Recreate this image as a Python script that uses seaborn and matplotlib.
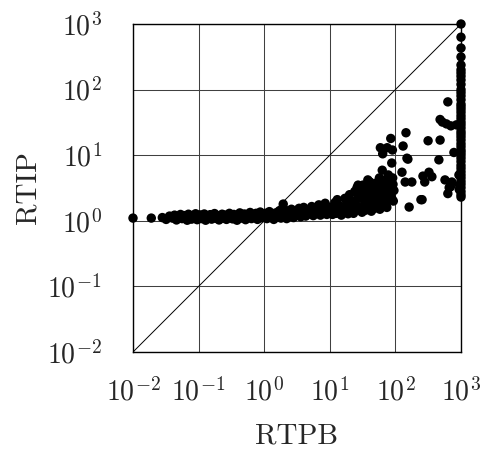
import numpy as np
import pandas as pd
import matplotlib
matplotlib.use("Agg")
import matplotlib.pyplot as plt
import seaborn as sns
from matplotlib.ticker import FixedLocator, FuncFormatter, NullLocator

# --- data (RTPB vs RTIP) ---
band_low_x = [0.01, 0.019, 0.028, 0.032, 0.036, 0.04, 0.043, 0.046, 0.05, 0.053,
              0.056, 0.06, 0.063, 0.067, 0.07, 0.074, 0.078, 0.082, 0.086, 0.09,
              0.095, 0.1, 0.105, 0.11, 0.116, 0.122, 0.128, 0.135, 0.142, 0.15,
              0.158, 0.166, 0.175, 0.185, 0.195, 0.205, 0.216, 0.228, 0.24, 0.253,
              0.266, 0.28, 0.295, 0.31, 0.33, 0.345, 0.365, 0.385, 0.405, 0.425,
              0.45, 0.47, 0.5, 0.52, 0.55, 0.58, 0.61, 0.64, 0.68, 0.71,
              0.75, 0.79, 0.83, 0.87, 0.92, 0.96, 1.0]
band_low_y = [1.1, 1.1, 1.12, 1.05, 1.18, 1.1, 1.22, 1.03, 1.15, 1.25,
              1.08, 1.2, 1.12, 1.02, 1.26, 1.14, 1.06, 1.21, 1.1, 1.28,
              1.04, 1.17, 1.23, 1.08, 1.13, 1.27, 1.02, 1.19, 1.11, 1.24,
              1.06, 1.16, 1.29, 1.09, 1.2, 1.03, 1.14, 1.26, 1.1, 1.22,
              1.05, 1.18, 1.3, 1.12, 1.07, 1.25, 1.15, 1.02, 1.21, 1.32,
              1.1, 1.17, 1.27, 1.04, 1.2, 1.12, 1.34, 1.08, 1.23, 1.16,
              1.3, 1.05, 1.19, 1.36, 1.11, 1.25, 1.15]

band_mid_x = [1.05, 1.1, 1.15, 1.2, 1.3, 1.35, 1.4, 1.5, 1.6, 1.7,
              1.8, 1.95, 2.0, 2.1, 2.2, 2.35, 2.5, 2.6, 2.8, 3.0,
              3.2, 3.4, 3.6, 3.8, 4.0, 4.3, 4.6, 5.0, 5.3, 5.6,
              6.0, 6.4, 6.8, 7.2, 7.6, 8.0, 8.5, 9.0, 9.5, 10.0]
band_mid_y = [1.3, 1.08, 1.2, 1.38, 1.12, 1.25, 1.05, 1.32, 1.18, 1.42,
              1.1, 1.8, 1.27, 1.45, 1.08, 1.35, 1.2, 1.5, 1.12, 1.4,
              1.25, 1.55, 1.15, 1.33, 1.6, 1.18, 1.45, 1.28, 1.65, 1.2,
              1.5, 1.35, 1.75, 1.22, 1.55, 1.4, 1.85, 1.25, 1.6, 1.45]

band_high_x = [10.5, 11, 11.5, 12, 12.5, 13, 13.5, 14, 15, 15.5,
               16, 17, 17.5, 18, 19, 20, 20.5, 21, 22, 23,
               24, 25, 26, 27, 28, 29, 30, 31, 32, 33,
               34, 35, 36, 38, 39, 40, 41, 42, 43, 44,
               46, 47, 48, 50, 51, 52, 54, 55, 57, 58,
               60, 62, 63, 64, 65, 67, 68, 70, 72, 74,
               75, 77, 78, 80, 82, 83, 85, 85, 88, 90,
               91, 93, 95, 59, 75, 38, 27, 86, 88, 92]
band_high_y = [1.6, 1.25, 1.45, 1.9, 1.3, 2.1, 1.5, 1.7, 1.22, 1.55,
               1.35, 2.2, 1.6, 1.8, 1.28, 2.5, 1.95, 1.45, 2.0, 1.3,
               2.8, 1.75, 3.2, 2.2, 1.5, 2.4, 2.6, 1.35, 3.5, 2.1,
               1.8, 1.45, 3.0, 2.4, 1.65, 1.9, 3.9, 2.8, 1.4, 2.0,
               3.3, 2.6, 1.55, 2.5, 1.8, 3.8, 2.9, 2.2, 4.5, 1.5,
               2.9, 1.8, 5.9, 10.5, 3.5, 2.0, 2.4, 4.2, 1.7, 1.6,
               3.0, 2.6, 5.0, 2.2, 3.2, 3.5, 2.4, 18, 7.6, 12,
               4.5, 2.0, 2.9, 13, 13, 4.2, 3.5, 3.0, 2.2, 3.6]

spread_x = [126, 131, 141, 145, 150, 155, 162, 178, 245, 263, 315, 325, 360, 480, 480, 460,
            570, 630, 630, 725, 780, 520, 600, 700, 850, 255, 280, 660, 690, 930, 950, 940]
spread_y = [5.5, 13.8, 3.9, 22, 9, 8.7, 1.62, 3.9, 2.1, 4.8, 16.6, 5.5, 4.7, 35, 17, 8.5,
            4.2, 65, 2.6, 3.9, 11, 32, 30, 28, 29, 2.1, 3.9, 3.2, 3.3, 5, 3.5, 3.0]

edge_x = [1000] * 45
edge_y = [1000, 630, 430, 315, 237, 200, 180, 160, 140, 120, 100, 90, 80, 70, 60, 55, 50,
          45, 40, 36, 32, 29, 26, 23, 21, 19, 17, 15, 13.5, 12, 11, 10, 9, 8, 7, 6.3,
          5.6, 5, 4.5, 4, 3.6, 3.2, 2.8, 2.5, 2.3]

diag = [1e-2, 1e3]
tick_exps = [-2, -1, 0, 1, 2, 3]

df = pd.DataFrame({
    "RTPB": band_low_x + band_mid_x + band_high_x + spread_x + edge_x,
    "RTIP": band_low_y + band_mid_y + band_high_y + spread_y + edge_y,
})

sns.set_style("white")
plt.rcParams["mathtext.fontset"] = "cm"
plt.rcParams["font.family"] = ["cmr10", "DejaVu Serif"]
plt.rcParams["axes.formatter.use_mathtext"] = True

fig = plt.figure(figsize=(4.82, 4.53), dpi=100)
ax = fig.add_axes([133 / 482, 1 - 352 / 453, 328 / 482, 328 / 453])

ax.plot(diag, diag, color="black", lw=0.7, zorder=2)
sns.scatterplot(data=df, x="RTPB", y="RTIP", ax=ax, color="black", s=46,
                edgecolor="none", linewidth=0, zorder=3, clip_on=False, legend=False)

ax.set_xscale("log")
ax.set_yscale("log")
ax.set_xlim(1e-2, 1e3)
ax.set_ylim(1e-2, 1e3)
ticks = [10.0 ** e for e in tick_exps]
fmt = FuncFormatter(lambda v, p: r"$10^{%d}$" % int(round(np.log10(v))))
for axis in (ax.xaxis, ax.yaxis):
    axis.set_major_locator(FixedLocator(ticks))
    axis.set_minor_locator(NullLocator())
    axis.set_major_formatter(fmt)
ax.grid(True, color="0.25", lw=0.75, zorder=1)
ax.tick_params(axis="both", direction="out", length=11.5, width=0.75, color="0.25",
               labelsize=20, top=False, right=False)
ax.tick_params(axis="x", pad=7)
ax.tick_params(axis="y", pad=11)
for s in ax.spines.values():
    s.set_color("black")
    s.set_linewidth(1.0)

ax.set_xlabel("RTPB", fontsize=21, labelpad=12)
ax.set_ylabel("RTIP", fontsize=21, labelpad=4)

fig.savefig("out.png", dpi=100)
